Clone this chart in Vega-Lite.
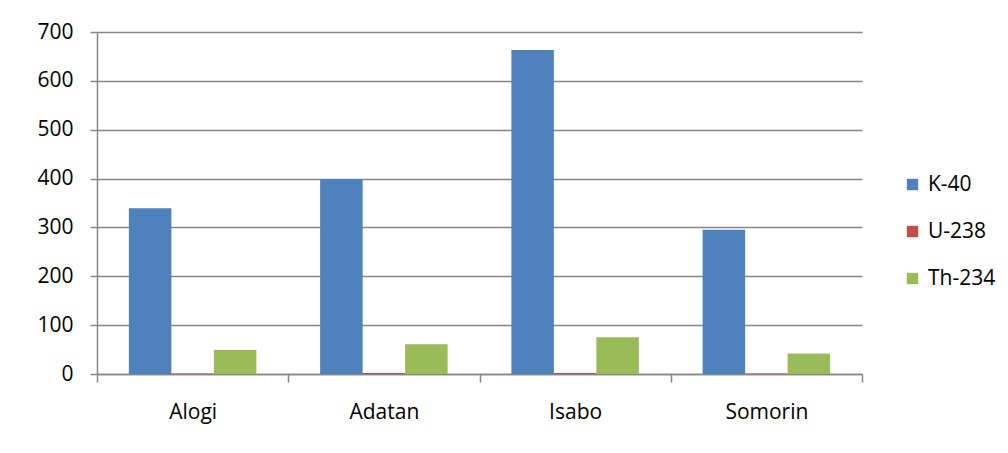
{
  "$schema": "https://vega.github.io/schema/vega-lite/v6.json",
  "width": 765,
  "height": 342,
  "autosize": {"type": "none"},
  "padding": {"left": 97, "top": 32, "right": 146, "bottom": 79},
  "background": "white",
  "data": {
    "values": [
      {"site": "Alogi", "nuclide": "K-40", "activity": 339},
      {"site": "Alogi", "nuclide": "U-238", "activity": 1},
      {"site": "Alogi", "nuclide": "Th-234", "activity": 49},
      {"site": "Adatan", "nuclide": "K-40", "activity": 399},
      {"site": "Adatan", "nuclide": "U-238", "activity": 2},
      {"site": "Adatan", "nuclide": "Th-234", "activity": 61},
      {"site": "Isabo", "nuclide": "K-40", "activity": 663},
      {"site": "Isabo", "nuclide": "U-238", "activity": 2},
      {"site": "Isabo", "nuclide": "Th-234", "activity": 75},
      {"site": "Somorin", "nuclide": "K-40", "activity": 295},
      {"site": "Somorin", "nuclide": "U-238", "activity": 1},
      {"site": "Somorin", "nuclide": "Th-234", "activity": 42}
    ]
  },
  "mark": {"type": "bar"},
  "encoding": {
    "x": {
      "field": "site",
      "type": "nominal",
      "sort": ["Alogi", "Adatan", "Isabo", "Somorin"],
      "scale": {"paddingInner": 0, "paddingOuter": 0},
      "axis": {
        "title": null,
        "labelAngle": 0,
        "tickBand": "extent",
        "tickSize": 8,
        "labelPadding": 19,
        "labelBaseline": "top",
        "grid": false
      }
    },
    "xOffset": {
      "field": "nuclide",
      "type": "nominal",
      "sort": ["K-40", "U-238", "Th-234"],
      "scale": {"paddingInner": 0, "paddingOuter": 0.75}
    },
    "y": {
      "field": "activity",
      "type": "quantitative",
      "scale": {"domain": [0, 700], "nice": false},
      "axis": {
        "title": null,
        "values": [0, 100, 200, 300, 400, 500, 600, 700],
        "tickSize": 7,
        "labelPadding": 17,
        "grid": true
      }
    },
    "color": {
      "field": "nuclide",
      "type": "nominal",
      "sort": ["K-40", "U-238", "Th-234"],
      "scale": {
        "domain": ["K-40", "U-238", "Th-234"],
        "range": ["#4f81bd", "#c0504d", "#9bbb59"]
      },
      "legend": {
        "title": null,
        "orient": "none",
        "legendX": 805,
        "legendY": 142,
        "symbolType": "square",
        "symbolSize": 130,
        "symbolStrokeWidth": 0,
        "symbolOpacity": 1,
        "labelFontSize": 21,
        "labelFont": "Open Sans",
        "labelColor": "#000000",
        "labelOffset": 5,
        "rowPadding": 25
      }
    }
  },
  "config": {
    "view": {"stroke": null},
    "axis": {
      "labelFont": "Open Sans",
      "labelFontSize": 21,
      "labelColor": "#000000",
      "domainColor": "#868686",
      "domainWidth": 1.5,
      "tickColor": "#868686",
      "tickWidth": 1.5,
      "gridColor": "#868686",
      "gridWidth": 1.5,
      "gridOpacity": 1
    }
  }
}
